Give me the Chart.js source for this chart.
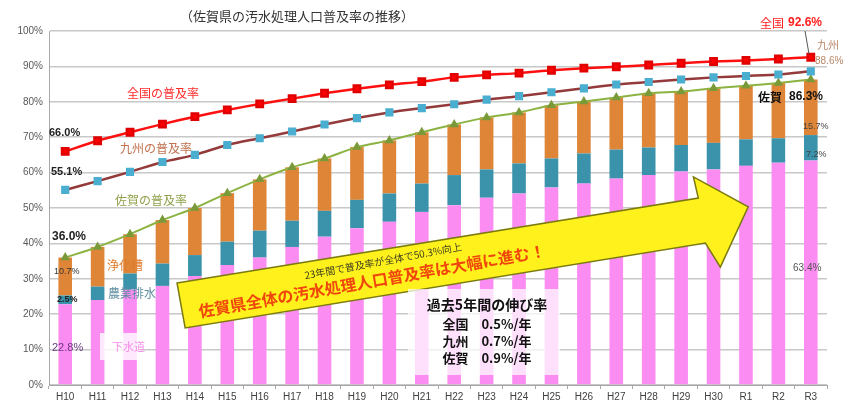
<!DOCTYPE html>
<html lang="ja">
<head>
<meta charset="utf-8">
<title>佐賀県の汚水処理人口普及率の推移</title>
<script src="https://cdn.jsdelivr.net/npm/chart.js@4.4.1/dist/chart.umd.min.js"></script>
<style>
  html, body { margin: 0; padding: 0; background: #fff; }
  #wrap { width: 844px; height: 406px; position: relative; }
</style>
</head>
<body>
<div id="wrap"><canvas id="chart"></canvas></div>
<script>
// Fiscal years (Heisei / Reiwa)
const years = ['H10', 'H11', 'H12', 'H13', 'H14', 'H15', 'H16', 'H17', 'H18', 'H19', 'H20', 'H21',
  'H22', 'H23', 'H24', 'H25', 'H26', 'H27', 'H28', 'H29', 'H30', 'R1', 'R2', 'R3'];

// Saga breakdown (% of population), stacked bars
const sewer = [22.8, 24.0, 27.0, 28.0, 30.8, 33.9, 36.0, 39.0, 41.9, 44.3, 46.1, 48.9,
  50.8, 52.9, 54.1, 55.8, 56.9, 58.3, 59.3, 60.3, 60.9, 61.9, 62.8, 63.4];
const rural = [2.5, 3.8, 4.5, 6.3, 5.9, 6.6, 7.6, 7.4, 7.3, 8.0, 8.0, 8.0,
  8.5, 8.0, 8.5, 8.2, 8.5, 8.2, 7.8, 7.5, 7.5, 7.5, 6.9, 7.2];
const septic = [10.7, 11.2, 11.1, 12.3, 13.3, 13.7, 14.5, 15.1, 14.8, 14.9, 15.0, 14.5,
  14.3, 14.7, 14.4, 15.0, 14.7, 14.7, 15.3, 15.1, 15.4, 15.1, 15.6, 15.7];

// Coverage rate lines
const nationalRate = [66.0, 69.0, 71.4, 73.7, 75.8, 77.7, 79.4, 80.9, 82.4, 83.7, 84.8, 85.7,
  86.9, 87.6, 88.1, 88.9, 89.5, 89.9, 90.4, 90.9, 91.4, 91.7, 92.1, 92.6];
const kyushuRate = [55.1, 57.6, 60.2, 63.0, 65.0, 67.8, 69.7, 71.6, 73.6, 75.4, 77.0, 78.2,
  79.3, 80.6, 81.6, 82.7, 83.8, 84.9, 85.6, 86.3, 86.9, 87.3, 87.7, 88.6];
const sagaRate = [36.0, 39.0, 42.6, 46.6, 50.0, 54.2, 58.1, 61.5, 64.0, 67.2, 69.1, 71.4,
  73.6, 75.6, 77.0, 79.0, 80.1, 81.2, 82.4, 82.9, 83.8, 84.5, 85.3, 86.3];

const JP = '"Noto Sans CJK JP", "Noto Sans", sans-serif';
const LAT = '"Liberation Sans", Arial, sans-serif';

// Draw title, labels, arrow and notes on top of the chart
const notes = {
  id: 'notes',
  afterDatasetsDraw(chart) {
    const ctx = chart.ctx;
    const xs = chart.scales.x, ys = chart.scales.y;
    const P = (i, v) => [xs.getPixelForValue(i), ys.getPixelForValue(v)];

    function text(str, x, y, font, color, align) {
      ctx.font = font;
      ctx.fillStyle = color;
      ctx.textAlign = align || 'left';
      ctx.textBaseline = 'middle';
      ctx.fillText(str, x, y);
    }

    ctx.save();

    // big yellow arrow (in data units)
    const arrow = [[3.45, 28.8], [19.53, 52.8], [19.38, 58.8], [21.07, 50.3],
      [20.21, 33.3], [19.75, 40.1], [3.70, 16.1]];
    ctx.beginPath();
    arrow.forEach((p, k) => {
      const [ax, ay] = P(p[0], p[1]);
      if (k === 0) ctx.moveTo(ax, ay); else ctx.lineTo(ax, ay);
    });
    ctx.closePath();
    ctx.fillStyle = '#fff21c';
    ctx.fill();
    ctx.lineWidth = 1.5;
    ctx.strokeStyle = '#7a7a10';
    ctx.stroke();

    // texts on arrow
    ctx.save();
    ctx.translate(383, 261);
    ctx.rotate(-10.5 * Math.PI / 180);
    text('23年間で普及率が全体で50.3%向上', 0, 0, '10px ' + JP, '#404020', 'center');
    ctx.restore();
    ctx.save();
    ctx.translate(372, 281);
    ctx.rotate(-10 * Math.PI / 180);
    text('佐賀県全体の汚水処理人口普及率は大幅に進む！', 0, 0, 'bold 16px ' + JP, '#f0460c', 'center');
    ctx.restore();

    // growth box
    ctx.fillStyle = 'rgba(255,255,255,0.72)';
    ctx.fillRect(408, 289, 152, 86);
    text('過去5年間の伸び率', 487, 305, 'bold 14px ' + JP, '#111', 'center');
    text('全国　0.5%/年', 487, 324, 'bold 13px ' + JP, '#111', 'center');
    text('九州　0.7%/年', 487, 341, 'bold 13px ' + JP, '#111', 'center');
    text('佐賀　0.9%/年', 487, 358, 'bold 13px ' + JP, '#111', 'center');

    // sewer label box
    ctx.fillStyle = 'rgba(255,255,255,0.8)';
    ctx.fillRect(100, 333, 40, 27);
    text('下水道', 112, 347, '11px ' + JP, '#f78fe8');

    // title
    text('（佐賀県の汚水処理人口普及率の推移）', 297, 16, '13px ' + JP, '#333', 'center');

    // end values
    text('全国', 760, 23, '12px ' + JP, '#ff2020');
    text('92.6%', 788, 23, 'bold 12px ' + LAT, '#ff2020');
    ctx.beginPath();
    ctx.moveTo(805, 31);
    ctx.lineTo(809, 54);
    ctx.strokeStyle = '#555';
    ctx.lineWidth = 1;
    ctx.stroke();
    text('九州', 817, 45, '11px ' + JP, '#b8876a');
    text('88.6%', 815, 61, '10px ' + LAT, '#b8876a');
    text('佐賀', 758, 97, 'bold 12px ' + JP, '#111');
    text('86.3%', 789, 97, 'bold 12px ' + LAT, '#111');
    text('15.7%', 803, 127, '9px ' + LAT, '#444');
    text('7.2%', 806, 155, '9px ' + LAT, '#444');
    text('63.4%', 793, 268, '10px ' + LAT, '#555');

    // start values
    text('66.0%', 49, 133, 'bold 11px ' + LAT, '#222');
    text('55.1%', 51, 172, 'bold 11px ' + LAT, '#222');
    text('36.0%', 52, 237, 'bold 12px ' + LAT, '#222');
    text('10.7%', 54, 272, '9px ' + LAT, '#333');
    text('2.5%', 57, 300, 'bold 9px ' + LAT, '#222');
    text('22.8%', 52, 348, '11px ' + LAT, '#6a3a80');

    // series names
    text('全国の普及率', 127, 93, '12px ' + JP, '#ff2a2a');
    text('九州の普及率', 120, 148, '12px ' + JP, '#c0714e');
    text('佐賀の普及率', 115, 200, '12px ' + JP, '#8fa24a');
    text('浄化槽', 107, 265, '12px ' + JP, '#e07a2a');
    text('農業排水', 108, 293, '12px ' + JP, '#5f8ea0');

    ctx.restore();
  }
};

const ctx = document.getElementById('chart').getContext('2d');
const chart = new Chart(ctx, {
  type: 'bar',
  data: {
    labels: years,
    datasets: [
      {
        type: 'line', label: '全国', data: nationalRate, stack: 'n', order: 0,
        borderColor: '#ff1010', borderWidth: 2.5, tension: 0.25,
        pointStyle: 'rect', pointRadius: 4.5, pointBackgroundColor: '#ff0000', pointBorderColor: '#e00000'
      },
      {
        type: 'line', label: '九州', data: kyushuRate, stack: 'k', order: 0,
        borderColor: '#943a3a', borderWidth: 2.5, tension: 0.25,
        pointStyle: 'rect', pointRadius: 4, pointBackgroundColor: '#4aaed0', pointBorderColor: '#4aaed0'
      },
      {
        type: 'line', label: '佐賀', data: sagaRate, stack: 's', order: 0,
        borderColor: '#8cb342', borderWidth: 2, tension: 0.25,
        pointStyle: 'triangle', pointRadius: 3.5, pointBackgroundColor: '#7a9a3a', pointBorderColor: '#7a9a3a'
      },
      { label: '下水道', data: sewer, backgroundColor: '#fb8cf2', stack: 'bar', order: 1 },
      { label: '農業排水', data: rural, backgroundColor: '#3a92ab', stack: 'bar', order: 1 },
      { label: '浄化槽', data: septic, backgroundColor: '#de8538', stack: 'bar', order: 1 }
    ]
  },
  options: {
    responsive: true,
    maintainAspectRatio: false,
    animation: false,
    layout: { padding: { top: 31, right: 17, left: 0, bottom: 0 } },
    datasets: { bar: { barPercentage: 0.42, categoryPercentage: 1 } },
    plugins: { legend: { display: false }, tooltip: { enabled: false } },
    scales: {
      x: {
        stacked: true,
        afterFit: s => { s.height = 21; },
        grid: { drawOnChartArea: false, tickLength: 4, color: '#a8a8a8' },
        border: { color: '#a8a8a8' },
        ticks: { maxRotation: 0, autoSkip: false, color: '#404040', padding: 2, font: { family: LAT, size: 10 } }
      },
      y: {
        stacked: true,
        min: 0,
        max: 100,
        afterFit: s => { s.width = 49; },
        grid: { color: '#c8c8c8', lineWidth: 1.5, drawTicks: false },
        border: { color: '#a8a8a8' },
        ticks: { stepSize: 10, padding: 6, color: '#595959', font: { family: LAT, size: 10 }, callback: v => v + '%' }
      }
    }
  },
  plugins: [notes]
});
</script>
</body>
</html>
